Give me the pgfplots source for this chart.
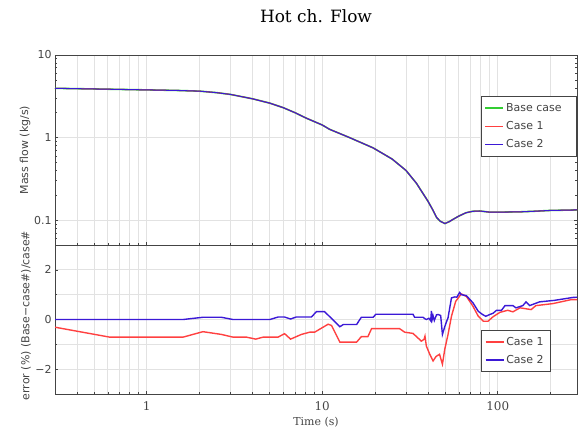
\documentclass[border=0pt]{standalone}
\usepackage{pgfplots}
\pgfplotsset{compat=1.18}
\usepackage{pgfplotstable}
\usepackage{fontspec}
\setmainfont{DejaVu Serif}
\newfontfamily\sans{DejaVu Sans}
\definecolor{cgreen}{RGB}{50,205,50}
\definecolor{cred}{RGB}{255,64,64}
\definecolor{cblue}{RGB}{59,25,214}
\definecolor{spine}{RGB}{68,68,68}
\definecolor{gridc}{RGB}{226,226,226}
\definecolor{tickc}{RGB}{68,68,68}

\pgfplotstableread{
t m
0.3 3.95
0.5 3.88
1 3.78
1.5 3.72
2 3.65
2.5 3.5
3 3.33
4 2.95
5 2.62
6 2.3
7 2.0
8.1 1.72
10 1.42
11 1.26
14.3 1.0
19.5 0.75
25 0.55
30 0.40
34.4 0.28
37 0.22
40 0.17
42.5 0.135
44.8 0.108
47 0.097
50 0.091
53 0.096
56 0.103
60 0.112
66 0.123
72 0.128
79 0.129
90 0.125
100 0.125
133 0.126
160 0.128
198 0.131
285 0.133
}\flowtab

\pgfplotstableread{
t e
0.3 -0.31
0.615 -0.71
1.61 -0.71
2.09 -0.49
2.66 -0.6
3.1 -0.71
3.7 -0.71
4.18 -0.79
4.6 -0.71
5.6 -0.71
6.1 -0.57
6.6 -0.79
7.61 -0.6
8.49 -0.51
9.05 -0.51
10.8 -0.19
11.3 -0.24
12.6 -0.91
15.7 -0.91
16.7 -0.69
18.2 -0.69
19.1 -0.37
27.6 -0.37
29.5 -0.51
32.9 -0.56
36.7 -0.87
38.0 -0.8
38.5 -0.67
39.2 -1.07
41 -1.4
42.8 -1.67
44.5 -1.49
46.6 -1.4
48.4 -1.8
49.9 -1.2
52.1 -0.6
54.5 0.13
57.6 0.73
62 1.03
66.3 0.93
72.3 0.53
77.5 0.13
82.7 -0.07
88 -0.07
94 0.11
103 0.29
114 0.37
122 0.31
134 0.47
155 0.4
165 0.56
206 0.64
262 0.8
285 0.8
}\errone

\pgfplotstableread{
t e
0.3 0
1.61 0
2.09 0.09
2.66 0.09
3.1 0
5.03 0
5.6 0.1
6.1 0.1
6.6 0.02
7.1 0.1
8.68 0.1
9.27 0.32
10.3 0.32
11.3 0.04
12.6 -0.29
13.2 -0.2
15.7 -0.2
16.7 0.09
19.5 0.09
20.2 0.21
32.9 0.21
33.6 0.09
37.5 0.09
38.5 0.03
39.2 0.0
40.5 0.05
41.5 -0.05
41.9 0.35
42.3 0.0
42.8 0.15
43.5 -0.04
44.8 0.19
45.9 0.2
47.3 0.16
48.4 -0.6
49.9 -0.29
51 -0.1
52.1 0.07
54.5 0.87
56.9 0.91
58.5 0.9
60.7 1.09
62 1.0
66.3 0.96
72.3 0.67
77.5 0.33
82 0.2
85.5 0.13
90 0.2
94 0.25
98.4 0.37
105 0.37
110 0.56
122 0.56
127 0.47
139 0.56
145 0.71
152 0.56
173 0.71
210 0.77
269 0.89
285 0.9
}\errtwo

\pgfplotsset{
  mycommon/.style={
    scale only axis,
    width=522bp,
    xmin=0.3, xmax=283,
    xtick={1,10,100},
    minor xtick={0.3,0.4,0.5,0.6,0.7,0.8,0.9,2,3,4,5,6,7,8,9,20,30,40,50,60,70,80,90,200},
    xmajorgrids, xminorgrids,
    grid style={draw=gridc, line width=0.8bp},
    minor grid style={draw=gridc, line width=0.8bp},
    axis line style={draw=spine, line width=0.9bp},
    tick style={draw=spine, line width=0.6bp},
    major tick length=3.5bp,
    minor tick length=2.5bp,
    tick align=inside,
    xtick pos=bottom,
    legend cell align=left,
    legend image code/.code={\draw[##1] (0bp,0bp) -- (18bp,0bp);},
    legend style={font=\sans\fontsize{11}{13}\selectfont, text=spine, draw=spine, line width=0.9bp, fill=white, inner xsep=3bp, inner ysep=5bp, row sep=4.5bp},
  }
}

\begin{document}
\begin{tikzpicture}[x=1bp,y=1bp]
\useasboundingbox (0,0) rectangle (578,432);

\begin{axis}[xmode=log, ymode=log, mycommon,
  at={(55bp,187bp)}, anchor=south west,
  height=190bp,
  ymin=0.05, ymax=10,
  ytick={0.1,1,10},
  yticklabels={0.1,1,10},
  minor ytick={0.06,0.07,0.08,0.09,0.2,0.3,0.4,0.5,0.6,0.7,0.8,0.9,2,3,4,5,6,7,8,9},
  ymajorgrids,
  ytick pos=both,
  xticklabels={},
  yticklabel style={font=\sans\fontsize{11}{11}\selectfont, text=tickc},
  ylabel={Mass flow (kg/s)},
  ylabel style={font=\sans\fontsize{11}{11}\selectfont, text=tickc, at={(rel axis cs:0,0.5)}, anchor=center, yshift=30bp},
  title={Hot ch. Flow},
  title style={font=\fontsize{17}{17}\selectfont, at={(rel axis cs:0.5,1)}, anchor=base, yshift=27bp},
  legend style={at={(rel axis cs:1,0.784)}, anchor=north east},
]
\addplot[cgreen, line width=1.6bp] table[x=t,y=m] {\flowtab};
\addlegendentry{Base case\kern10bp}
\addplot[cred, line width=1bp] table[x=t,y=m] {\flowtab};
\addlegendentry{Case 1}
\addplot[cblue, line width=1bp] table[x=t,y=m] {\flowtab};
\addlegendentry{Case 2}
\end{axis}

\begin{axis}[xmode=log, mycommon,
  at={(55bp,38bp)}, anchor=south west,
  height=149bp,
  ymin=-3, ymax=3,
  ytick={-2,0,2},
  yticklabels={−2,0,2},
  minor ytick={-1,1},
  ymajorgrids, yminorgrids,
  ytick pos=left,
  xticklabels={1,10,100},
  xticklabel style={font=\fontsize{12}{12}\selectfont, text=tickc, yshift=-4bp},
  yticklabel style={font=\sans\fontsize{11}{11}\selectfont, text=tickc},
  xlabel={Time (s)},
  xlabel style={font=\fontsize{11}{11}\selectfont, text=tickc, at={(rel axis cs:0.5,0)}, anchor=base, yshift=-31bp},
  ylabel={error (\%) (Base−case\#)/case\#},
  ylabel style={font=\sans\fontsize{11}{11}\selectfont, text=tickc, at={(rel axis cs:0,0.5)}, anchor=center, yshift=29bp, xshift=4bp},
  legend style={at={(rel axis cs:0.817,0.146)}, anchor=south west},
]
\addplot[cred, line width=1.4bp] table[x=t,y=e] {\errone};
\addlegendentry{Case 1\kern2bp}
\addplot[cblue, line width=1.4bp] table[x=t,y=e] {\errtwo};
\addlegendentry{Case 2\kern2bp}
\end{axis}
\end{tikzpicture}
\end{document}
